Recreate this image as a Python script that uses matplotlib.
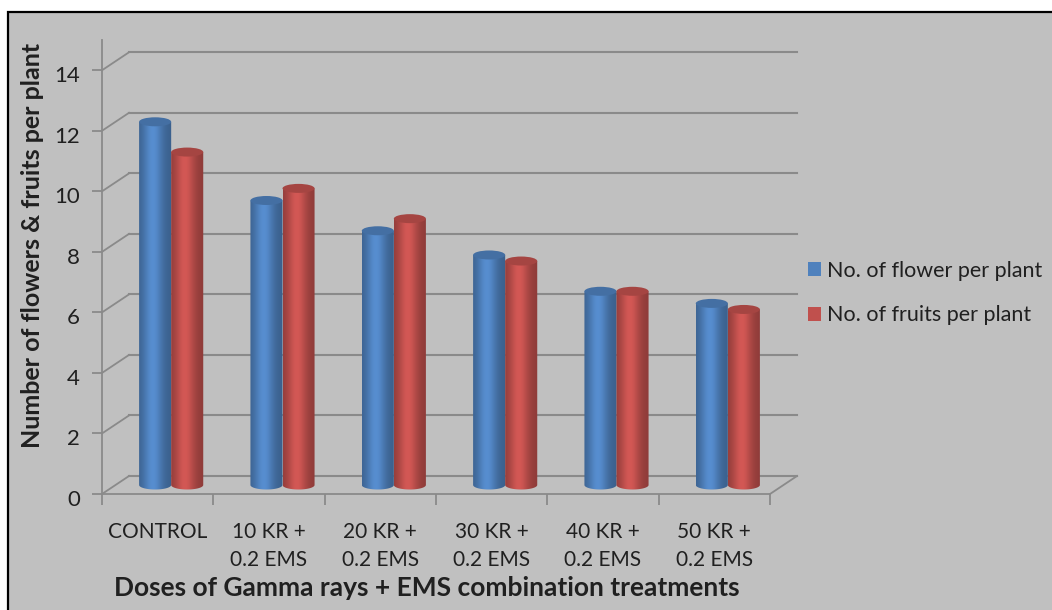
import numpy as np
import matplotlib.pyplot as plt
from matplotlib.patches import Rectangle, Ellipse, PathPatch, Patch
from matplotlib.path import Path
from matplotlib.colors import to_rgb
from matplotlib.transforms import ScaledTranslation

treatments = ["CONTROL", "10 KR +\n0.2 EMS", "20 KR +\n0.2 EMS",
              "30 KR +\n0.2 EMS", "40 KR +\n0.2 EMS", "50 KR +\n0.2 EMS"]
flowers = [12.0, 9.4, 8.4, 7.6, 6.4, 6.0]
fruits = [11.0, 9.8, 8.8, 7.4, 6.4, 5.8]
y_ticks = [0, 2, 4, 6, 8, 10, 12, 14]
series_names = ["No. of flower per plant", "No. of fruits per plant"]

blue = "#4f81bd"
red = "#c0504d"
grid_col = "#8a8a8a"
bg = "#c0c0c0"
text_col = "#202020"

plt.rcParams['font.family'] = ['Lato', 'DejaVu Sans']

W, H = 1052, 610
fig = plt.figure(figsize=(W / 100, H / 100), dpi=100)
fig.patch.set_facecolor("white")
# grey chart area with black frame (cut off at right and bottom)
fig.add_artist(Rectangle((8 / W, -0.05), 1.2, 1 - 12 / H + 0.05,
                         transform=fig.transFigure, facecolor=bg,
                         edgecolor="black", linewidth=1.6, zorder=0))

ax = fig.add_axes([102 / W, 1 - 494 / H, 668 / W, 454 / H])
ax.set_facecolor("none")

n = len(treatments)
x = np.arange(n)
# fake 3d depth (data units): back wall offset
dx = 27 / (668 / n)
dy = 18 / (454 / 15)
bar_half = 0.144
ell = 4.5 / (454 / 15)

# back wall gridlines, connectors and floor edge
for v in y_ticks:
    ax.plot([-0.5 + dx, n - 0.5 + dx], [v + dy, v + dy], color=grid_col,
            lw=1.5, clip_on=False, zorder=1)
    ax.plot([-0.5, -0.5 + dx], [v, v + dy], color=grid_col, lw=1.3,
            clip_on=False, zorder=1)
ax.plot([n - 0.5, n - 0.5 + dx], [0, dy], color=grid_col, lw=1.3,
        clip_on=False, zorder=1)


def shade(color, k=64):
    t = np.linspace(0, 1, k)
    f = 0.74 + 0.36 * np.exp(-((t - 0.42) / 0.3) ** 2)
    rgb = np.array(to_rgb(color))
    return np.clip(rgb[None, :] * f[:, None], 0, 1)


def cylinder(xc, h, color):
    base = dy / 2
    t = np.linspace(np.pi, 2 * np.pi, 40)
    verts = list(zip(xc + bar_half * np.cos(t), base + ell * np.sin(t)))
    verts += [(xc + bar_half, base + h), (xc - bar_half, base + h),
              (xc - bar_half, base)]
    body = PathPatch(Path(verts), facecolor="none", edgecolor="none")
    ax.add_patch(body)
    img = ax.imshow(shade(color)[None, :, :], aspect="auto",
                    extent=(xc - bar_half, xc + bar_half, base - ell, base + h),
                    interpolation="bilinear", zorder=3)
    img.set_clip_path(body)
    top_col = np.array(to_rgb(color)) * 0.86
    ax.add_patch(Ellipse((xc, base + h), 2 * bar_half, 2 * ell,
                         facecolor=top_col, edgecolor="none", zorder=4))


for i in range(n):
    cylinder(x[i] - bar_half + dx / 2, flowers[i], blue)
    cylinder(x[i] + bar_half + dx / 2, fruits[i], red)

ax.set_xlim(-0.5, n - 0.5)
ax.set_ylim(0, 15)

for s in ["top", "right"]:
    ax.spines[s].set_visible(False)
for s in ["left", "bottom"]:
    ax.spines[s].set_color(grid_col)
    ax.spines[s].set_linewidth(1.3)

ax.set_yticks(y_ticks)
ax.tick_params(axis="y", direction="out", length=7, width=1.3,
               color=grid_col, labelcolor=text_col, labelsize=16, pad=9)
shift = ScaledTranslation(0, -0.04, fig.dpi_scale_trans)
for lbl in ax.get_yticklabels():
    lbl.set_transform(lbl.get_transform() + shift)

ax.set_xticks(np.arange(-0.5, n), [""] * (n + 1))
ax.set_xticks(x, treatments, minor=True)
ax.tick_params(axis="x", which="major", direction="out", length=8,
               width=1.3, color=grid_col)
ax.tick_params(axis="x", which="minor", length=0, pad=20,
               labelcolor=text_col, labelsize=15)
for lbl in ax.get_xticklabels(minor=True):
    lbl.set_linespacing(1.5)

fig.text(33 / W, 1 - 245 / H, "Number of flowers & fruits per plant",
         rotation=90, ha="center", va="center", fontsize=18,
         fontweight="bold", color=text_col)
fig.text(427 / W, 1 - 588 / H,
         "Doses of Gamma rays + EMS combination treatments",
         ha="center", va="center", fontsize=19, fontweight="bold",
         color=text_col)

handles = [Patch(facecolor=blue), Patch(facecolor=red)]
fig.legend(handles, series_names, loc="center left",
           bbox_to_anchor=(808 / W, 1 - 293 / H), frameon=False,
           handlelength=0.6, handleheight=0.6, handletextpad=0.3,
           labelspacing=1.15, fontsize=15.5, borderaxespad=0, borderpad=0,
           labelcolor=text_col)

fig.savefig("out.png", dpi=100, facecolor=fig.get_facecolor())
